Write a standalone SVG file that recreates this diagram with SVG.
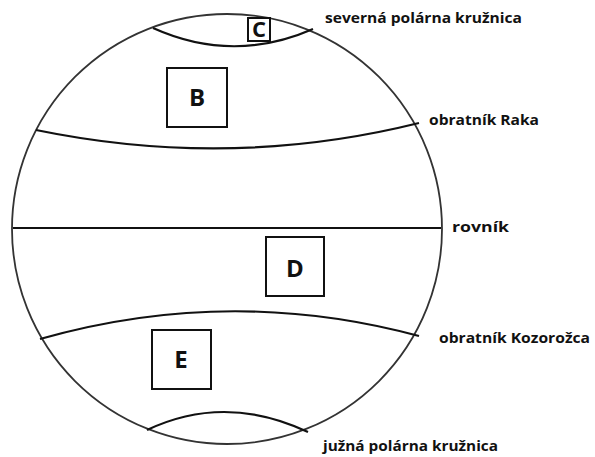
<svg xmlns="http://www.w3.org/2000/svg" width="595" height="457" viewBox="0 0 595 457">
<style>
.lbl{font-family:"Open Sans","Noto Sans","Liberation Sans",sans-serif;font-weight:700;font-size:15px;fill:#111}
.zone{font-family:"Open Sans","Noto Sans","Liberation Sans",sans-serif;font-weight:700;font-size:24px;fill:#111;text-anchor:middle}
.box{fill:#fff;stroke:#111;stroke-width:2}
.ln{fill:none;stroke:#111;stroke-width:2.2}
</style>
<rect width="595" height="457" fill="#fff"/>
<g id="globe">
<circle cx="227" cy="229" r="215" fill="none" stroke="#333" stroke-width="1.8"/>
</g>
<g id="lines">
<path class="ln" d="M153,28 Q233,64 313,29"/>
<path class="ln" d="M36,130 Q230,170 419,123"/>
<path class="ln" d="M13,228 L441,228"/>
<path class="ln" d="M40,339 Q230,285 419,336"/>
<path class="ln" d="M147,430 Q225,393 308,432"/>
</g>
<g id="labels">
<text class="lbl" x="325" y="23" textLength="197" lengthAdjust="spacingAndGlyphs">severná polárna kružnica</text>
<text class="lbl" x="429" y="125" textLength="110" lengthAdjust="spacingAndGlyphs">obratník Raka</text>
<text class="lbl" x="452" y="232" textLength="57" lengthAdjust="spacingAndGlyphs">rovník</text>
<text class="lbl" x="439" y="343" textLength="151" lengthAdjust="spacingAndGlyphs">obratník Kozorožca</text>
<text class="lbl" x="323" y="451" textLength="175" lengthAdjust="spacingAndGlyphs">južná polárna kružnica</text>
</g>
<g id="zone-C">
<rect class="box" x="248" y="18" width="22" height="23"/>
<text class="zone" x="259" y="37" style="font-size:22px">C</text>
</g>
<g id="zone-B">
<rect class="box" x="167" y="68" width="60" height="59"/>
<text class="zone" x="197" y="106">B</text>
</g>
<g id="zone-D">
<rect class="box" x="266" y="237" width="58" height="59"/>
<text class="zone" x="295" y="277">D</text>
</g>
<g id="zone-E">
<rect class="box" x="152" y="330" width="59" height="59"/>
<text class="zone" x="181" y="368">E</text>
</g>
</svg>
